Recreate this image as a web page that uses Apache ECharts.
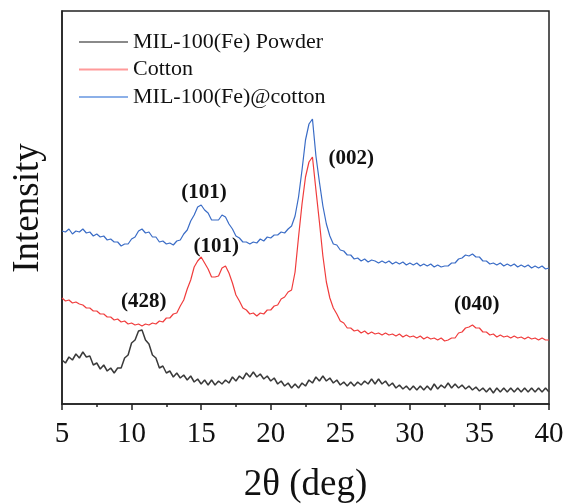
<!DOCTYPE html>
<html>
<head>
<meta charset="utf-8">
<script src="https://cdn.jsdelivr.net/npm/echarts@6/dist/echarts.min.js"></script>
<style>
html,body{margin:0;padding:0;background:#fff;}
#chart{width:568px;height:504px;}
</style>
</head>
<body>
<div id="chart"></div>
<script>
// 2θ sampling grid (deg): 5.00 ... 40.00 every 0.25
var twoThetaStart = 5, twoThetaStep = 0.25, twoThetaCount = 141;
var twoTheta = [];
for (var i = 0; i < twoThetaCount; i++) twoTheta.push(twoThetaStart + i * twoThetaStep);

var xTicks = [5, 10, 15, 20, 25, 30, 35, 40];
var seriesNames = ['MIL-100(Fe) Powder', 'Cotton', 'MIL-100(Fe)@cotton'];

// Intensity (a.u., stacked offsets as in the figure)
var powder = [
44,41,47,44,50,46,52,47,48,39,41,35,39,33,36,31,36,36,46,49,
61,64,73,74,64,60,49,46,36,38,31,33,27,31,26,29,24,28,22,25,
20,24,19,24,19,23,20,24,21,27,23,28,25,31,27,32,27,30,25,28,
23,26,20,23,18,21,16,20,16,21,18,24,21,27,23,28,23,26,21,24,
19,22,18,22,18,22,19,23,20,25,20,25,20,23,18,21,16,19,15,18,
14,18,14,18,14,18,14,20,15,19,16,21,16,20,16,19,15,18,14,17,
13,16,12,16,11,16,12,16,12,16,12,16,12,16,12,16,12,16,12,16,
12
];
var cotton = [
106,103,104,101,102,100,99,96,96,93,93,90,90,87,87,84,85,82,83,80,
81,79,80,78,80,79,81,80,83,82,86,86,90,91,98,104,115,124,137,143,
147,141,135,127,127,128,136,138,131,121,109,103,96,94,90,91,88,91,90,94,
94,98,99,105,107,112,114,132,167,200,227,242,247,214,182,148,122,106,96,90,
83,81,76,76,73,74,71,73,70,72,70,71,69,71,69,70,68,70,67,69,
67,68,66,68,65,67,65,66,64,66,63,64,66,66,71,72,76,77,79,76,
76,72,72,69,70,67,69,67,68,66,68,66,67,65,67,65,66,64,66,64,
64
];
var coated = [
173,172,175,170,173,172,175,171,172,168,170,167,168,164,165,162,162,158,160,160,
165,167,173,175,171,172,167,167,162,163,160,161,159,163,164,170,174,183,189,197,
199,194,191,184,184,184,189,187,180,175,168,166,162,162,160,162,161,165,163,167,
166,169,169,172,171,175,178,188,207,234,264,280,285,248,222,198,180,168,160,159,
154,153,149,149,145,146,143,145,142,144,143,141,143,141,143,140,142,140,142,139,
141,139,141,138,140,138,140,137,139,137,138,138,141,141,145,146,149,148,150,147,
147,143,143,140,141,139,141,138,140,138,140,137,139,137,139,136,138,136,138,135,
136
];

// Peak labels: text, 2θ, intensity
var peakText = ['(101)', '(101)', '(428)', '(002)', '(040)'];
var peakTheta = [15.21, 16.09, 10.87, 25.78, 34.81];
var peakValue = [211.5, 157, 102, 245, 99];

var lineColors = ['#3a3a3a', '#f03c3c', '#3a6cc6'];
var legendColors = ['#8a8a8a', '#ff9a9a', '#8cb0e8'];

function pairs(xs, ys) {
  var out = [];
  for (var k = 0; k < ys.length; k++) out.push([xs[k], ys[k]]);
  return out;
}
var labelData = [];
for (var j = 0; j < peakText.length; j++) {
  labelData.push({ name: peakText[j], value: [peakTheta[j], peakValue[j]] });
}

var serif = 'Liberation Serif, Times New Roman, serif';
var chart = echarts.init(document.getElementById('chart'), null, { renderer: 'canvas' });
var allValues = [powder, cotton, coated];
var lineWidths = [1.5, 1.2, 1.2];
var series = [];
for (var s = 0; s < 3; s++) {
  series.push({
    name: seriesNames[s],
    type: 'line',
    data: pairs(twoTheta, allValues[s]),
    symbol: 'none',
    smooth: false,
    lineStyle: { color: lineColors[s], width: lineWidths[s] },
    itemStyle: { color: lineColors[s] },
    z: 3 + s
  });
}
series.push({
  name: 'peaks',
  type: 'scatter',
  data: labelData,
  symbol: 'circle',
  symbolSize: 2,
  itemStyle: { color: 'rgba(0,0,0,0)' },
  silent: true,
  z: 10,
  label: {
    show: true,
    position: 'inside',
    formatter: function (p) { return p.name; },
    fontFamily: serif,
    fontWeight: 'bold',
    fontSize: 21,
    color: '#111',
    opacity: 1
  }
});

chart.setOption({
  animation: false,
  backgroundColor: '#fff',
  grid: {
    left: 62, right: 19, top: 11, bottom: 100,
    outerBoundsMode: 'none',
    containLabel: false,
    show: true, borderColor: '#222', borderWidth: 1.5, backgroundColor: 'transparent'
  },
  legend: {
    orient: 'vertical',
    left: 79, top: 31,
    padding: 0,
    itemWidth: 49, itemHeight: 2,
    itemGap: 5.5,
    icon: 'rect',
    selectedMode: false,
    textStyle: { fontFamily: serif, fontSize: 22, color: '#111', lineHeight: 22 },
    data: [
      { name: seriesNames[0], itemStyle: { color: legendColors[0] } },
      { name: seriesNames[1], itemStyle: { color: legendColors[1] } },
      { name: seriesNames[2], itemStyle: { color: legendColors[2] } }
    ]
  },
  xAxis: {
    type: 'value',
    min: 5, max: 40, interval: 5,
    name: '2θ (deg)',
    nameLocation: 'middle',
    nameGap: 63,
    nameTextStyle: { fontFamily: serif, fontSize: 37, color: '#111' },
    axisLine: { show: true, lineStyle: { color: '#222', width: 1.5 } },
    axisTick: { show: true, inside: false, length: 6, lineStyle: { color: '#222', width: 1.5 } },
    minorTick: { show: true, splitNumber: 2, length: 3, lineStyle: { color: '#222', width: 1.5 } },
    axisLabel: {
      fontFamily: serif, fontSize: 29, color: '#111', margin: 16,
      formatter: function (v) { return xTicks.indexOf(v) >= 0 ? String(v) : ''; }
    },
    splitLine: { show: false },
    minorSplitLine: { show: false }
  },
  yAxis: {
    type: 'value',
    min: 0, max: 393,
    axisLine: { show: true, lineStyle: { color: '#222', width: 1.5 } },
    axisTick: { show: false },
    axisLabel: { show: false },
    splitLine: { show: false }
  },
  graphic: [{
    type: 'text',
    x: 28, y: 208,
    rotation: Math.PI / 2,
    style: {
      text: 'Intensity',
      fontFamily: serif, fontSize: 37, fill: '#111',
      textAlign: 'center', textVerticalAlign: 'middle'
    }
  }],
  series: series
});
</script>
</body>
</html>
